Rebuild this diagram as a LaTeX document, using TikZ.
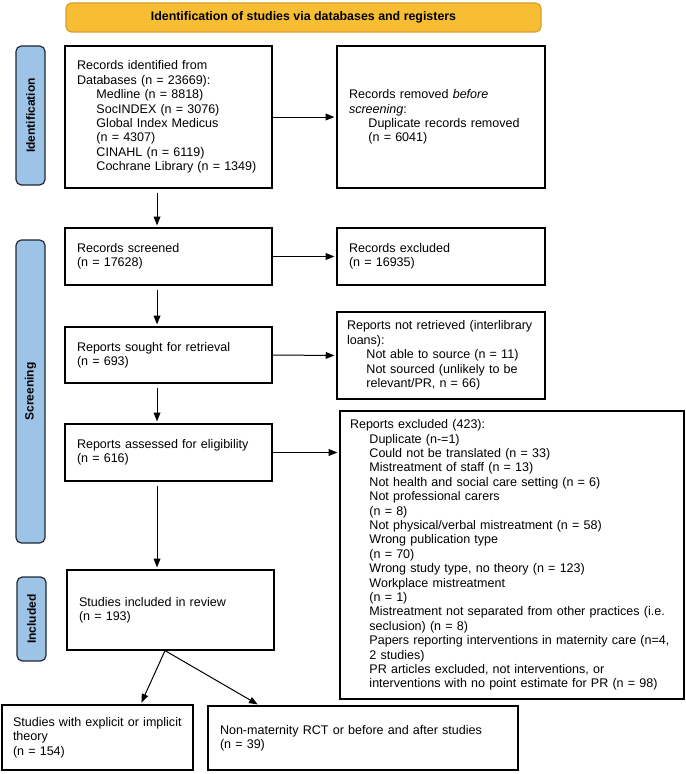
\documentclass[tikz,border=0pt]{standalone}
\usepackage{fontspec}
\setmainfont{Liberation Sans}
\usetikzlibrary{arrows.meta}
\hyphenpenalty=10000
\definecolor{bannerfill}{HTML}{F7BE34}
\definecolor{bannerline}{HTML}{D99E2B}
\definecolor{phasefill}{HTML}{9DC3E6}
\definecolor{phaseline}{HTML}{1F2833}
\newcommand{\ind}{\hspace*{14.6pt}} % indent of the sub lines
\newcommand{\phase}[5] % name, x in px, y in px, length in px, label
{
	\node[phasebox, minimum width=#4*0.75pt] (#1) at (#2,#3) {#5};
}
\tikzset{
	flowbox/.style={draw, line width=0.9pt, align=left, inner xsep=9pt, inner ysep=2pt,
		font=\fontsize{9.4}{10.8}\selectfont},
	phasebox/.style={draw=phaseline, fill=phasefill, line width=0.9pt, rounded corners=4pt,
		rotate=90, minimum height=21.75pt, inner sep=0pt, font=\fontsize{9}{10.8}\selectfont\bfseries},
	flowarrow/.style={->, line width=0.75pt, shorten <=3pt, shorten >=1.5pt}
}

\begin{document}
\begin{tikzpicture}[x=0.75pt, y=-0.75pt, >={Triangle[length=6.5pt,width=5pt]}]
	% 685 x 774 px, origin top left
	\useasboundingbox (0,0) rectangle (685,774);
	
	% banner
	\node[draw=bannerline, fill=bannerfill, line width=0.9pt, rounded corners=4pt,
		minimum width=356.25pt, minimum height=21.75pt, inner sep=0pt,
		font=\fontsize{9.3}{10.8}\selectfont\bfseries] (banner) at (303.5,17.5)
		{Identification of studies via databases and registers};
	
	% phases
	\phase{idphase}{30.5}{115.5}{139}{Identification};
	\phase{scphase}{30.5}{391.5}{303}{Screening};
	\phase{inphase}{31.5}{619}{84}{Included};
	
	% left column
	\node[flowbox, text width=137.25pt, minimum height=106.5pt] (ident) at (168.5,117)
		{Records identified from\\ Databases (n = 23669):\\
		\ind Medline (n = 8818)\\ \ind SocINDEX (n = 3076)\\
		\ind Global Index Medicus\\ \ind (n = 4307)\\
		\ind CINAHL (n = 6119)\\ \ind Cochrane Library (n = 1349)};
	\node[flowbox, text width=137.25pt, minimum height=42.75pt] (screen) at (168.5,256.5)
		{Records screened\\ (n = 17628)};
	\node[flowbox, text width=137.25pt, minimum height=42pt] (sought) at (168.5,355)
		{Reports sought for retrieval\\ (n = 693)};
	\node[flowbox, text width=137.25pt, minimum height=42.75pt] (assess) at (168.5,452.5)
		{Reports assessed for eligibility\\ (n = 616)};
	\node[flowbox, text width=137.25pt, minimum height=60pt] (incl) at (170.5,610)
		{Studies included in review\\ (n = 193)};
	
	% right column
	\node[flowbox, text width=138pt, minimum height=106.5pt] (removed) at (441,117)
		{Records removed \textit{before}\\ \textit{screening}:\\
		\ind Duplicate records removed\\ \ind (n = 6041)};
	\node[flowbox, text width=138pt, minimum height=42.75pt] (rexcl) at (441,256.5)
		{Records excluded\\ (n = 16935)};
	\node[flowbox, inner xsep=7.5pt, text width=141pt, minimum height=65.25pt] (notret) at (441,355.5)
		{Reports not retrieved (interlibrary\\ loans):\\
		\ind Not able to source (n = 11)\\ \ind Not sourced (unlikely to be\\
		\ind relevant/PR, n = 66)};
	\node[flowbox, inner xsep=7.5pt, text width=243pt, minimum height=216pt] (repexcl) at (512,555)
		{Reports excluded (423):\\
		\ind Duplicate (n-=1)\\
		\ind Could not be translated (n = 33)\\
		\ind Mistreatment of staff (n = 13)\\
		\ind Not health and social care setting (n = 6)\\
		\ind Not professional carers\\
		\ind (n = 8)\\
		\ind Not physical/verbal mistreatment (n = 58)\\
		\ind Wrong publication type\\
		\ind (n = 70)\\
		\ind Wrong study type, no theory (n = 123)\\
		\ind Workplace mistreatment\\
		\ind (n = 1)\\
		\ind Mistreatment not separated from other practices (i.e.\\
		\ind seclusion) (n = 8)\\
		\ind Papers reporting interventions in maternity care (n=4,\\
		\ind 2 studies)\\
		\ind PR articles excluded, not interventions, or\\
		\ind interventions with no point estimate for PR (n = 98)};
	
	% bottom row
	\node[flowbox, inner xsep=8.25pt, text width=126.75pt, minimum height=48.75pt] (explicit) at (97.5,737.5)
		{Studies with explicit or implicit\\ theory\\ (n = 154)};
	\node[flowbox, text width=214.5pt, minimum height=48pt] (nonmat) at (363,738)
		{Non-maternity RCT or before and after studies\\ (n = 39)};
	
	% down arrows
	\draw[flowarrow] ([xshift=-8.6pt]ident.south) -- ([xshift=-8.6pt]screen.north);
	\draw[flowarrow] ([xshift=-8.6pt]screen.south) -- ([xshift=-8.6pt]sought.north);
	\draw[flowarrow] ([xshift=-8.6pt]sought.south) -- ([xshift=-8.6pt]assess.north);
	\draw[flowarrow] ([xshift=-8.6pt]assess.south) -- ([xshift=-8.6pt]assess.south |- incl.north);
	
	% side arrows
	\draw[flowarrow, shorten <=0pt] (ident.east) -- (removed.west);
	\draw[flowarrow, shorten <=0pt] (screen.east) -- (rexcl.west);
	\draw[flowarrow, shorten <=0pt] (sought.east) -- (notret.west);
	\draw[flowarrow, shorten <=0pt] (assess.east) -- (assess.east -| repexcl.west);
	
	% split
	\draw[flowarrow, shorten <=0pt] ([xshift=-4.1pt]incl.south) -- ([xshift=-39.75pt]explicit.north east);
	\draw[flowarrow, shorten <=0pt] ([xshift=-4.1pt]incl.south) -- ([xshift=39pt]nonmat.north west);
	
\end{tikzpicture}
\end{document}
